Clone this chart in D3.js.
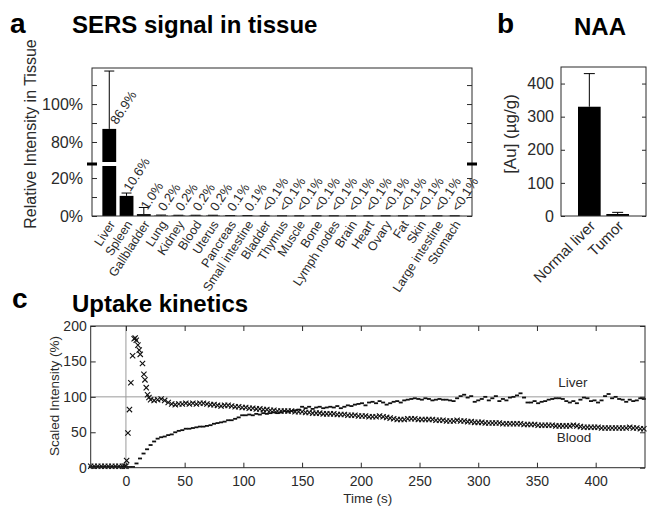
<!DOCTYPE html>
<html><head><meta charset="utf-8">
<script src="https://cdn.jsdelivr.net/npm/d3@7"></script>
<style>
html,body{margin:0;padding:0;background:#fff;}
svg{display:block;font-family:"Liberation Sans",Arial,sans-serif;}
</style></head>
<body>
<svg id="chart" width="654" height="510"></svg>
<script>
// ---------- Panel a data ----------
const tissueCategories = ["Liver","Spleen","Gallbladder","Lung","Kidney","Blood","Uterus","Pancreas","Small intestine","Bladder","Thymus","Muscle","Bone","Lymph nodes","Brain","Heart","Ovary","Fat","Skin","Large intestine","Stomach"];
const tissueValues = [86.9,10.6,1.0,0.2,0.2,0.2,0.2,0.1,0.1,0.05,0.05,0.05,0.05,0.05,0.05,0.05,0.05,0.05,0.05,0.05,0.05];
const tissueErrors = [30.5,1.5,3.5,0.3,0.2,0.2,0.2,0.1,0.1,0.05,0.05,0.05,0.05,0.05,0.05,0.05,0.05,0.05,0.05,0.05,0.05];
const tissueLabels = ["86.9%","10.6%","1.0%","0.2%","0.2%","0.2%","0.2%","0.1%","0.1%","<0.1%","<0.1%","<0.1%","<0.1%","<0.1%","<0.1%","<0.1%","<0.1%","<0.1%","<0.1%","<0.1%","<0.1%"];
const tissueTicks = [0,10,20,80,90,100,110];
const tissueTickLabels = {0:"0%",20:"20%",80:"80%",100:"100%"};

// ---------- Panel b data ----------
const naaCategories = ["Normal liver","Tumor"];
const naaValues = [330,6];
const naaErrors = [100,5];
const naaTicks = [0,100,200,300,400];

// ---------- Panel c data ----------
const kinTicksX = [0,50,100,150,200,250,300,350,400];
const kinTicksY = [0,50,100,150,200];
const bloodTime = [-30,-27,-24,-21,-18,-15,-12,-9,-6,-3,-1,0,0.6,1.7,3,4.2,5.7,7,7.9,8.8,10.2,11.3,12.2,14.1,15.3,16.2,17.3,18.4,19.6,
21,24,27,30,33,36,39,42,45,48,51,54,57,60,63,66,69,72,75,78,81,84,87,90,93,96,99,102,105,108,111,114,117,120,123,126,129,132,135,138,141,144,147,150,153,156,159,162,165,168,171,174,177,180,183,186,189,192,195,198,201,204,207,210,213,216,219,222,225,228,231,234,237,240,243,246,249,252,255,258,261,264,267,270,273,276,279,282,285,288,291,294,297,300,303,306,309,312,315,318,321,324,327,330,333,336,339,342,345,348,351,354,357,360,363,366,369,372,375,378,381,384,387,390,393,396,399,402,405,408,411,414,417,420,423,426,429,432,435,438,441];
const bloodValue = [2,2,2,2,2,2,2,2,2,2,2,2,10,49,82,120,158,182,183,180,173,166,160,147,132,124,113,103,99,
96,95,96,97,95,92,90,89,90,90,91,90,91,90,91,91,90,89,89,88,87,88,88,87,86,86,85,85,84,84,83,83,82,82,81,81,80,80,80,80,80,79,79,79,78,78,77,77,77,76,76,76,76,75,75,75,74,74,74,73,73,73,72,72,72,73,72,71,70,69,68,68,68,69,69,69,68,68,68,68,68,67,67,67,66,66,66,67,66,66,65,65,64,64,64,63,63,63,63,63,62,62,62,62,62,62,61,61,61,61,60,60,60,60,60,59,59,59,59,59,60,59,58,57,57,57,57,57,56,56,56,56,56,56,56,56,57,56,56,55,55];
const liverTime = [-30,-27,-24,-21,-18,-15,-12,-9,-6,-3,0,3,6,9,12,15,18,21,24,27,30,33,36,39,42,45,48,51,54,57,60,63,66,69,72,75,78,81,84,87,90,93,96,99,102,105,108,111,114,117,120,123,126,129,132,135,138,141,144,147,150,153,156,159,162,165,168,171,174,177,180,183,186,189,192,195,198,201,204,207,210,213,216,219,222,225,228,231,234,237,240,243,246,249,252,255,258,261,264,267,270,273,276,279,282,285,288,291,294,297,300,303,306,309,312,315,318,321,324,327,330,333,336,339,342,345,348,351,354,357,360,363,366,369,372,375,378,381,384,387,390,393,396,399,402,405,408,411,414,417,420,423,426,429,432,435,438,441];
const liverValue = [1,1,1,1,1,1,1,1,1,1,1,1,1,6,13,20,26,32,37,41,43,44,46,47,50,52,53,55,55,56,57,58,58,59,60,62,63,64,65,67,67,69,71,74,74,75,74,76,75,77,76,77,78,77,78,80,79,80,81,82,86,84,86,83,85,86,84,85,86,85,87,84,86,88,87,89,90,91,88,92,93,91,94,92,89,91,93,94,92,95,96,97,98,97,96,98,97,95,96,97,96,96,95,94,98,101,103,99,101,93,95,97,100,95,98,101,94,97,95,99,100,102,105,99,92,92,94,91,93,94,96,97,98,98,97,94,92,94,91,96,99,98,94,95,92,95,101,104,98,100,97,96,93,96,94,95,98,97];

const svg = d3.select("#chart");
svg.append("rect").attr("width",654).attr("height",510).attr("fill","#fff");
const ink = "#2a2a2a";
const FF = "Liberation Sans, Arial, sans-serif";

// ================= Panel a =================
const ga = svg.append("g");
const xA = d3.scaleLinear().domain([0,22]).range([92,472]);
const yA = d3.scaleLinear().domain([0,27.4,68.4,119]).range([216,164,164,68]);
const bwA = (xA(1)-xA(0))*0.8;
const angA = -57;

ga.selectAll("rect.bar").data(tissueValues).join("rect")
  .attr("x",(d,i)=>xA(i+1)-bwA/2).attr("width",bwA)
  .attr("y",d=>yA(d)).attr("height",d=>yA(0)-yA(d)).attr("fill","#000");
ga.selectAll("path.err").data(tissueValues).join("path")
  .attr("d",(d,i)=>{const x=xA(i+1),y0=yA(d),y1=yA(d+tissueErrors[i]);return `M${x},${y0}V${y1}M${x-5},${y1}H${x+5}`;})
  .attr("stroke","#000").attr("stroke-width",1).attr("fill","none");
ga.append("rect").attr("x",xA(1)-bwA/2-1).attr("width",bwA+2).attr("y",yA(27.4)-2).attr("height",4).attr("fill","#fff");
ga.append("rect").attr("x",92).attr("y",68).attr("width",380).attr("height",148).attr("fill","none").attr("stroke",ink).attr("stroke-width",1);
const axL = d3.axisLeft(yA).tickValues(tissueTicks).tickSize(-5).tickPadding(9).tickFormat(d=>tissueTickLabels[d]||"");
const gAL = ga.append("g").attr("transform","translate(92,0)").call(axL);
const axR = d3.axisRight(yA).tickValues(tissueTicks).tickSize(-5).tickFormat("");
const gAR = ga.append("g").attr("transform","translate(472,0)").call(axR);
[gAL,gAR].forEach(g=>{g.select(".domain").remove();g.selectAll("line").attr("stroke",ink);g.selectAll("text").attr("font-size",16).attr("fill",ink).attr("font-family",FF);});
[92,472].forEach(x=>{ga.append("rect").attr("x",x-5).attr("y",yA(27.4)-1.5).attr("width",10).attr("height",3).attr("fill","#000");});
ga.selectAll("text.val").data(tissueLabels).join("text")
  .attr("transform",(d,i)=>`translate(${xA(i+1)+(i===0?4:0)},${yA(tissueValues[i])-6}) rotate(${angA})`)
  .attr("dominant-baseline","central").attr("font-size",13).attr("fill",ink).text(d=>d);
ga.selectAll("text.cat").data(tissueCategories).join("text")
  .attr("transform",(d,i)=>`translate(${xA(i+1)+3},${222}) rotate(${angA})`)
  .attr("text-anchor","end").attr("dominant-baseline","central").attr("font-size",12.5).attr("fill",ink).text(d=>d);
ga.append("text").attr("transform","translate(36,134) rotate(-90)").attr("text-anchor","middle")
  .attr("font-size",16).attr("fill",ink).text("Relative Intensity in Tissue");
ga.append("text").attr("x",10).attr("y",33).attr("font-size",28).attr("font-weight","bold").attr("fill","#000").text("a");
ga.append("text").attr("x",72).attr("y",33).attr("font-size",24).attr("font-weight","bold").attr("fill","#000").text("SERS signal in tissue");

// ================= Panel b =================
const gb = svg.append("g");
const xB = d3.scaleLinear().domain([0,3]).range([561,646]);
const yB = d3.scaleLinear().domain([0,450]).range([216,67]);
const bwB = (xB(1)-xB(0))*0.8;
gb.selectAll("rect.bar").data(naaValues).join("rect")
  .attr("x",(d,i)=>xB(i+1)-bwB/2).attr("width",bwB)
  .attr("y",d=>yB(d)).attr("height",d=>yB(0)-yB(d)).attr("fill","#000");
gb.selectAll("path.err").data(naaValues).join("path")
  .attr("d",(d,i)=>{const x=xB(i+1),y0=yB(d),y1=yB(d+naaErrors[i]);return `M${x},${y0}V${y1}M${x-5.5},${y1}H${x+5.5}`;})
  .attr("stroke","#000").attr("stroke-width",1).attr("fill","none");
gb.append("rect").attr("x",561).attr("y",67).attr("width",85).attr("height",149).attr("fill","none").attr("stroke",ink);
const gBL = gb.append("g").attr("transform","translate(561,0)").call(d3.axisLeft(yB).tickValues(naaTicks).tickSize(-4).tickPadding(7));
const gBR = gb.append("g").attr("transform","translate(646,0)").call(d3.axisRight(yB).tickValues(naaTicks).tickSize(-4).tickFormat(""));
[gBL,gBR].forEach(g=>{g.select(".domain").remove();g.selectAll("line").attr("stroke",ink);g.selectAll("text").attr("font-size",16).attr("fill",ink).attr("font-family",FF);});
gb.selectAll("text.cat").data(naaCategories).join("text")
  .attr("transform",(d,i)=>`translate(${xB(i+1)+3},${223}) rotate(-45)`)
  .attr("text-anchor","end").attr("dominant-baseline","central").attr("font-size",15).attr("fill",ink).text(d=>d);
gb.append("text").attr("transform","translate(516,134) rotate(-90)").attr("text-anchor","middle")
  .attr("font-size",17).attr("fill",ink).text("[Au] (µg/g)");
gb.append("text").attr("x",497).attr("y",33).attr("font-size",28).attr("font-weight","bold").attr("fill","#000").text("b");
gb.append("text").attr("x",600).attr("y",35).attr("text-anchor","middle").attr("font-size",24).attr("font-weight","bold").attr("fill","#000").text("NAA");

// ================= Panel c =================
const gc = svg.append("g");
const xC = d3.scaleLinear().domain([-30,442]).range([90.7,645]);
const yC = d3.scaleLinear().domain([0,200]).range([467.7,326]);
gc.append("line").attr("x1",xC(-30)).attr("x2",xC(442)).attr("y1",yC(100)).attr("y2",yC(100)).attr("stroke","#9a9a9a");
gc.append("line").attr("x1",xC(0)).attr("x2",xC(0)).attr("y1",yC(0)).attr("y2",yC(200)).attr("stroke","#9a9a9a");
gc.selectAll("rect.liv").data(liverValue).join("rect")
  .attr("x",(d,i)=>xC(liverTime[i])-2).attr("y",d=>yC(d)-0.9).attr("width",4).attr("height",1.8).attr("fill","#111");
const xSym = d3.symbol(d3.symbolX).size(20);
gc.selectAll("path.bl").data(bloodValue).join("path")
  .attr("transform",(d,i)=>`translate(${xC(bloodTime[i])},${yC(d)})`).attr("d",xSym)
  .attr("stroke","#111").attr("stroke-width",1.1).attr("fill","none");
gc.append("rect").attr("x",90.7).attr("y",326).attr("width",645-90.7).attr("height",467.7-326).attr("fill","none").attr("stroke",ink);
const gCB = gc.append("g").attr("transform","translate(0,467.7)").call(d3.axisBottom(xC).tickValues(kinTicksX).tickSize(-5).tickPadding(8));
const gCT = gc.append("g").attr("transform","translate(0,326)").call(d3.axisTop(xC).tickValues(kinTicksX).tickSize(-5).tickFormat(""));
const gCL = gc.append("g").attr("transform","translate(90.7,0)").call(d3.axisLeft(yC).tickValues(kinTicksY).tickSize(-5).tickPadding(4));
const gCR = gc.append("g").attr("transform","translate(645,0)").call(d3.axisRight(yC).tickValues(kinTicksY).tickSize(-5).tickFormat(""));
[gCB,gCT,gCL,gCR].forEach(g=>{g.select(".domain").remove();g.selectAll("line").attr("stroke",ink);g.selectAll("text").attr("font-size",14).attr("fill",ink).attr("font-family",FF);});
gc.append("text").attr("x",367.8).attr("y",503).attr("text-anchor","middle").attr("font-size",13.5).attr("fill",ink).text("Time (s)");
gc.append("text").attr("transform","translate(59,396) rotate(-90)").attr("text-anchor","middle").attr("font-size",13.5).attr("fill",ink).text("Scaled Intensity (%)");
gc.append("text").attr("x",573).attr("y",387).attr("text-anchor","middle").attr("font-size",13.5).attr("fill",ink).text("Liver");
gc.append("text").attr("x",574).attr("y",442).attr("text-anchor","middle").attr("font-size",13.5).attr("fill",ink).text("Blood");
gc.append("text").attr("x",12).attr("y",308).attr("font-size",28).attr("font-weight","bold").attr("fill","#000").text("c");
gc.append("text").attr("x",72).attr("y",312).attr("font-size",24).attr("font-weight","bold").attr("fill","#000").text("Uptake kinetics");
</script>
</body></html>
